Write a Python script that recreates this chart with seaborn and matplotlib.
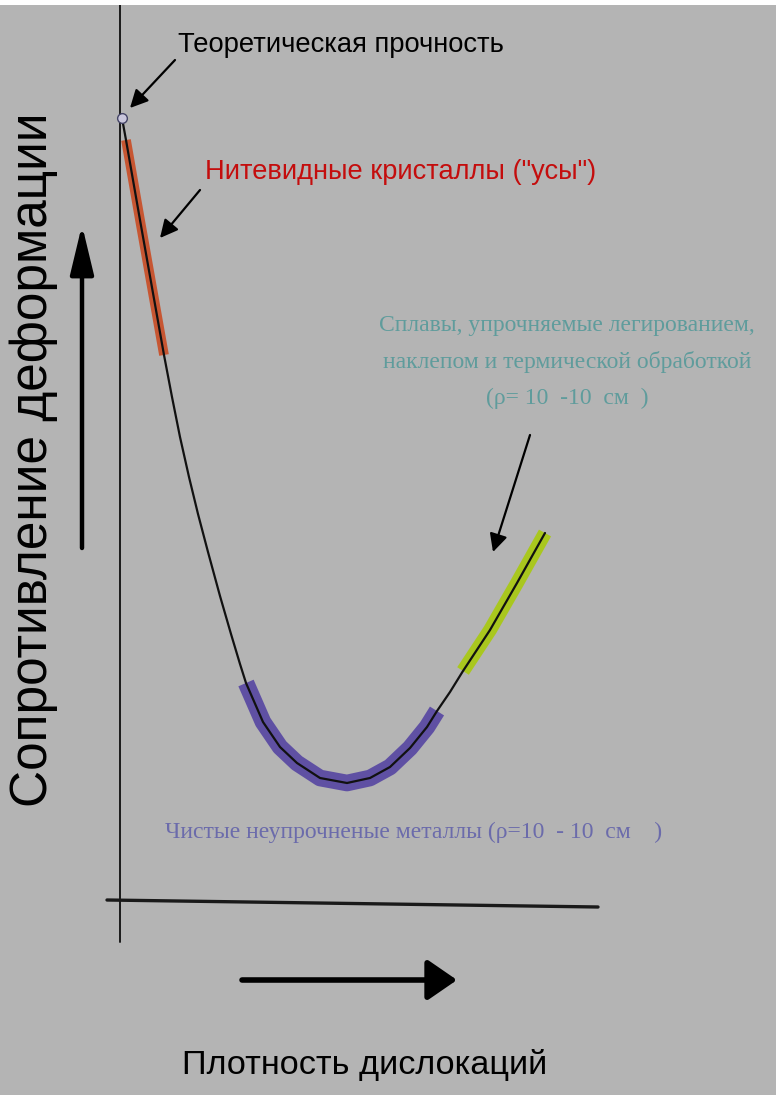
"""
Dislocation density vs. resistance to deformation (Oding curve) redrawn with seaborn
"""

import pandas as pd
import matplotlib
matplotlib.use("Agg")
import matplotlib.pyplot as plt
import seaborn as sns

# curve (arbitrary units, origin at the axes crossing)
density = [2, 6, 13, 20, 28, 36, 44, 52, 60, 69, 78, 88, 100, 111, 120, 126, 143, 160,
           177, 200, 227, 250, 270, 290, 307, 317, 330, 343, 370, 397, 425]
resistance = [785, 763, 723, 683, 638, 593, 548, 506, 466, 426, 389, 351, 307, 269, 239, 220, 181, 156,
              140, 125, 120, 125, 136, 155, 176, 192, 211, 232, 273, 320, 370]

# highlighted regions of the curve (density ranges)
whiskers_range = (6, 44)
pure_range = (126, 317)
alloys_range = (343, 425)

theory_point = (2, 785)

label_theory = "Теоретическая прочность"
label_whiskers = 'Нитевидные кристаллы ("усы")'
label_alloys = "Сплавы, упрочняемые легированием,\nнаклепом и термической обработкой\n(ρ= 10  -10  см  )"
label_pure = "Чистые неупрочненые металлы (ρ=10  - 10  см    )"
xlabel = "Плотность дислокаций"
ylabel = "Сопротивление деформации"

bg = "#b4b4b4"

sns.set_theme(style="white", rc={"axes.facecolor": bg})
sans = ["Liberation Sans", "DejaVu Sans"]
serif = ["Liberation Serif", "DejaVu Serif"]
plt.rcParams["font.family"] = sans

df = pd.DataFrame({"density": density, "resistance": resistance})

fig = plt.figure(figsize=(7.76, 10.95), dpi=100, facecolor="white")
ax = fig.add_axes([0, 0, 1, 1090 / 1095])
ax.set_xlim(-120, 656)
ax.set_ylim(-192, 898)
for s in ax.spines.values():
    s.set_visible(False)
ax.set_xticks([])
ax.set_yticks([])

# axes lines
ax.plot([0, 0], [-39, 898], color="#1a1a1a", lw=1.4)
ax.plot([-13, 478], [3, -4], color="#1a1a1a", lw=2.4)

# highlighted bands
bands = [(whiskers_range, "#c9512b", 7),
         (pure_range, "#5b4ba3", 12),
         (alloys_range, "#a9c916", 10)]
for (lo, hi), col, w in bands:
    seg = df[(df["density"] >= lo) & (df["density"] <= hi)]
    sns.lineplot(data=seg, x="density", y="resistance", sort=False, estimator=None,
                 color=col, lw=w, alpha=0.95, ax=ax, solid_capstyle="butt",
                 solid_joinstyle="round")

sns.lineplot(data=df, x="density", y="resistance", sort=False, estimator=None,
             color="#111111", lw=1.6, ax=ax, solid_joinstyle="round")
ax.plot(*theory_point, marker="o", ms=7, mfc="#c9c6dc", mec="#444466", mew=1, zorder=5)
ax.set_xlabel("")
ax.set_ylabel("")

# big direction arrows
ax.annotate("", xy=(-38, 678), xytext=(-38, 355),
            arrowprops=dict(arrowstyle="-|>,head_length=1.5,head_width=0.36",
                            lw=3.2, color="black", mutation_scale=20, shrinkA=0, shrinkB=0))
ax.annotate("", xy=(337, -77), xytext=(122, -77),
            arrowprops=dict(arrowstyle="-|>,head_length=0.9,head_width=0.62",
                            lw=4, color="black", mutation_scale=20, shrinkA=0, shrinkB=0))

small = dict(arrowstyle="-|>,head_length=0.9,head_width=0.45", lw=1.6,
             color="black", mutation_scale=12, shrinkA=0, shrinkB=0)
ax.annotate("", xy=(10, 795), xytext=(55, 843), arrowprops=small)
ax.annotate("", xy=(40, 665), xytext=(80, 713), arrowprops=small)
ax.annotate("", xy=(373, 351), xytext=(410, 468), arrowprops=small)

t_theory = ax.text(58, 858, label_theory, fontsize=24, ha="left", va="center", color="black")
t_whisk = ax.text(85, 731, label_whiskers, fontsize=24, ha="left", va="center",
                  color="#c40d0d")
ax.text(447, 541, label_alloys, fontsize=17, family=serif, ha="center", va="center",
        color="#5f9c9c", linespacing=1.9)
ax.text(45, 71, label_pure, fontsize=17, family=serif, ha="left", va="center",
        color="#6b6bab")
t_x = ax.text(245, -162, xlabel, fontsize=30, ha="center", va="center", color="black")
ax.text(-73, 443, ylabel, fontsize=37, ha="center", va="baseline", rotation=90,
        rotation_mode="anchor", color="black")

# scale the label fonts so their lengths match the original picture (pixels)
renderer = fig.canvas.get_renderer()
for t, length in [(t_theory, 327), (t_whisk, 393), (t_x, 366)]:
    bb = t.get_window_extent(renderer)
    t.set_fontsize(t.get_fontsize() * length / bb.width)

fig.savefig("out.png", dpi=100)
